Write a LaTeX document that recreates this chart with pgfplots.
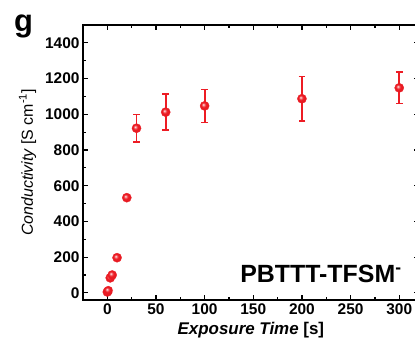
\documentclass[border=0pt]{standalone}
\usepackage{fontspec}
\setmainfont{Liberation Sans}
\setsansfont{Liberation Sans}
\usepackage{pgfplots}
\pgfplotsset{compat=1.18}
\definecolor{myred}{RGB}{237,28,36}
\makeatletter
\pgfdeclareradialshading[tikz@ball]{ball}{\pgfqpoint{-8bp}{8bp}}{%
  color(0bp)=(tikz@ball!5!white);
  color(5bp)=(tikz@ball!50!white);
  color(12bp)=(tikz@ball);
  color(30bp)=(tikz@ball!95!black);
  color(50bp)=(tikz@ball!88!black)}
\makeatother
\begin{document}
\begin{tikzpicture}
\begin{axis}[
  name=ax,
  scale only axis,
  width=335.7bp, height=275bp,
  xmin=-25, xmax=320,
  ymin=-40, ymax=1500,
  xtick={0,50,...,300},
  ytick={0,200,...,1400},
  minor x tick num=1,
  minor y tick num=1,
  tick align=inside,
  major tick length=5bp,
  minor tick length=3bp,
  axis line style={line width=1.4bp},
  every tick/.style={line width=1.2bp, black},
  /pgf/number format/assume math mode=true,
  /pgf/number format/1000 sep={},
  ticklabel style={font=\fontsize{15.5}{18}\selectfont\bfseries},
  xlabel={\fontsize{17}{20}\selectfont\bfseries\itshape Exposure Time\upshape{} [s]},
  ylabel={\fontsize{16}{19}\selectfont\itshape Conductivity\upshape{} [S cm\textsuperscript{-1}]},
  xlabel style={yshift=-1bp},
  ylabel style={yshift=2bp},
  clip=false,
]
\addplot[only marks, mark=ball, ball color=myred, mark size=4.6bp,
  mark options={draw=myred, line width=0.3bp},
  error bars/.cd, y dir=both, y explicit,
  error bar style={line width=1.8bp, myred},
  error mark options={rotate=90, line width=1.6bp, mark size=3.4bp, myred}]
  table[x=t, y=s, y error=e] {
t s e
0 5 0
1 12 0
3 84 0
5 100 0
10 197 0
20 533 0
30 922 77
60 1012 100
100 1047 92
200 1087 124
300 1148 88
};
\node[anchor=base east, font=\fontsize{25}{29}\selectfont\bfseries] at (axis cs:306,56) {PBTTT-TFSM\textsuperscript{-}};
\end{axis}
\node[anchor=north west, font=\fontsize{31}{34}\selectfont\bfseries, inner sep=0pt] at ([xshift=-69bp,yshift=10bp]ax.north west) {g};
\pgfresetboundingbox
\path[use as bounding box] ([xshift=-83bp,yshift=-52bp]ax.south west) rectangle ([xshift=332bp,yshift=25bp]ax.north west);
\end{tikzpicture}
\end{document}
